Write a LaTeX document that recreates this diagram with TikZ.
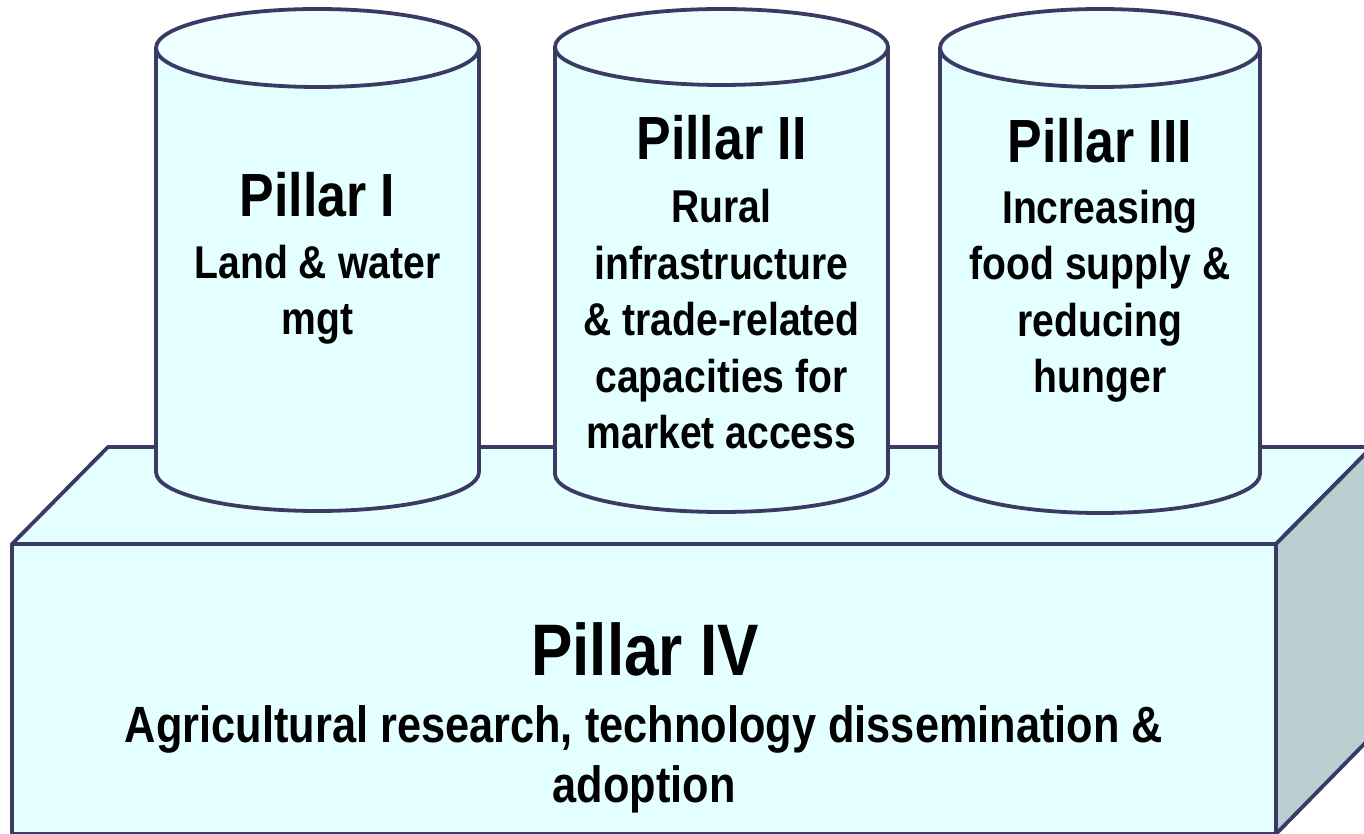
\documentclass[tikz,border=0pt]{standalone}
\usepackage{fontspec}
\newfontfamily\pillarfont[FakeStretch=0.85]{Liberation Sans}
\definecolor{edgec}{HTML}{3B3A64}
\definecolor{frontc}{HTML}{E4FFFF}
\definecolor{topc}{HTML}{EEFFFF}
\definecolor{sidec}{HTML}{B9CFD1}
\tikzset{
  outline/.style={draw=edgec, line width=3.8pt, line join=round},
  titletext/.style={font=\pillarfont\bfseries\fontsize{61}{62}\selectfont, anchor=base, inner sep=0pt},
  desctext/.style={font=\pillarfont\bfseries\fontsize{46}{56.5}\selectfont, anchor=base, align=center, inner sep=0pt},
  bigtitle/.style={font=\pillarfont\bfseries\fontsize{73}{75}\selectfont, anchor=base, inner sep=0pt},
  bigdesc/.style={font=\pillarfont\bfseries\fontsize{51}{60}\selectfont, anchor=base, align=center, inner sep=0pt},
}
\begin{document}
\begin{tikzpicture}[x=1pt,y=1pt]
\useasboundingbox (0,0) rectangle (1364,833);
\clip (0,0) rectangle (1364,833);
% base block
\coordinate (fbl) at (12,-1);
\coordinate (ftl) at (12,289);
\coordinate (ftr) at (1276,289);
\coordinate (fbr) at (1276,-1);
\coordinate (btl) at (108,386);
\coordinate (btr) at (1372,386);
\coordinate (bbr) at (1372,97);
\fill[frontc] (ftl) -- (btl) -- (btr) -- (ftr) -- cycle;
\draw[outline] (ftl) -- (btl) -- (btr) -- (ftr) -- cycle;
\filldraw[outline, fill=sidec] (ftr) -- (btr) -- (bbr) -- (fbr) -- cycle;
\filldraw[outline, fill=frontc] (fbl) rectangle (ftr);
% cylinders
\newcommand{\pillarcyl}[6]{% name, L, R, topY, botY, ry
  \pgfmathsetmacro{\rxx}{(#3-#2)/2}
  \pgfmathsetmacro{\cxx}{(#3+#2)/2}
  \filldraw[outline, fill=frontc] (#2,#4) -- (#2,#5) arc[start angle=180, end angle=360, x radius=\rxx, y radius=#6] -- (#3,#4) -- cycle;
  \filldraw[outline, fill=topc] (\cxx,#4) ellipse[x radius=\rxx, y radius=#6];
  \coordinate (#1) at (\cxx,#4);
}
\pillarcyl{cylA}{156}{479}{785}{361}{39}
\pillarcyl{cylB}{555}{888}{786}{359}{38}
\pillarcyl{cylC}{940}{1260}{785}{359}{39}
% texts (multi-line nodes: base = baseline of last line)
\node[titletext] (t1) at (317.5,616) {Pillar I};
\node[desctext] (d1) at (317.5,498) {Land \& water\\mgt};
\node[titletext] (t2) at (721.5,673) {Pillar II};
\node[desctext] (d2) at (721.5,384) {Rural\\infrastructure\\\& trade-related\\capacities for\\market access};
\node[titletext] (t3) at (1100,670) {Pillar III};
\node[desctext] (d3) at (1100,440) {Increasing\\food supply \&\\reducing\\hunger};
\node[bigtitle] (t4) at (645,158) {Pillar IV};
\node[bigdesc] (d4) at (644,31) {Agricultural research, technology dissemination \&\\adoption};
\end{tikzpicture}
\end{document}
